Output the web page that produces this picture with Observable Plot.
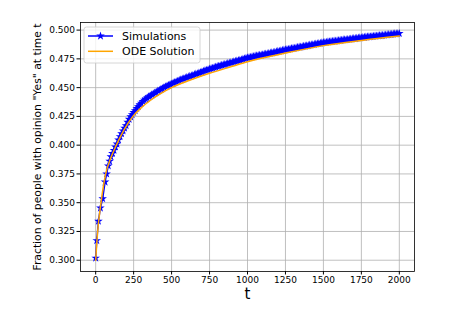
<!DOCTYPE html>
<html><head><meta charset="utf-8">
<script src="https://cdn.jsdelivr.net/npm/d3@7"></script>
<script src="https://cdn.jsdelivr.net/npm/@observablehq/plot@0.6"></script>
<style>body{margin:0;background:#fff}</style>
</head><body><div id="chart"></div>
<script>
const simT = [0, 7, 18, 31, 46, 62, 72, 83, 92,
  100, 110, 120, 130, 140, 150, 160, 170, 180, 190, 200, 210, 220, 230, 240, 250, 260, 270, 280, 290,
  300, 310, 320, 330, 340, 350, 360, 370, 380, 390, 400, 410, 420, 430, 440, 450, 460, 470, 480, 490,
  500, 510, 520, 530, 540, 550, 560, 570, 580, 590, 600, 610, 620, 630, 640, 650, 660, 670, 680, 690,
  700, 710, 720, 730, 740, 750, 760, 770, 780, 790, 800, 810, 820, 830, 840, 850, 860, 870, 880, 890,
  900, 910, 920, 930, 940, 950, 960, 970, 980, 990, 1000, 1010, 1020, 1030, 1040, 1050, 1060, 1070, 1080, 1090,
  1100, 1110, 1120, 1130, 1140, 1150, 1160, 1170, 1180, 1190, 1200, 1210, 1220, 1230, 1240, 1250, 1260, 1270, 1280, 1290,
  1300, 1310, 1320, 1330, 1340, 1350, 1360, 1370, 1380, 1390, 1400, 1410, 1420, 1430, 1440, 1450, 1460, 1470, 1480, 1490,
  1500, 1510, 1520, 1530, 1540, 1550, 1560, 1570, 1580, 1590, 1600, 1610, 1620, 1630, 1640, 1650, 1660, 1670, 1680, 1690,
  1700, 1710, 1720, 1730, 1740, 1750, 1760, 1770, 1780, 1790, 1800, 1810, 1820, 1830, 1840, 1850, 1860, 1870, 1880, 1890,
  1900, 1910, 1920, 1930, 1940, 1950, 1960, 1970, 1980, 1990, 2000];
const simV = [0.3019, 0.3171, 0.3339, 0.3454, 0.3535, 0.3680, 0.3750, 0.3820, 0.3860,
  0.3900, 0.3928, 0.3955, 0.3985, 0.4010, 0.4045, 0.4075, 0.4100, 0.4125, 0.4148, 0.4170, 0.4200, 0.4225, 0.4247, 0.4265, 0.4285, 0.4300, 0.4320, 0.4335, 0.4352,
  0.4365, 0.4381, 0.4392, 0.4400, 0.4410, 0.4421, 0.4428, 0.4438, 0.4445, 0.4454, 0.4460, 0.4471, 0.4478, 0.4486, 0.4492, 0.4502, 0.4508, 0.4515, 0.4520, 0.4528,
  0.4532, 0.4540, 0.4545, 0.4552, 0.4556, 0.4563, 0.4568, 0.4574, 0.4578, 0.4584, 0.4588, 0.4594, 0.4598, 0.4603, 0.4606, 0.4613, 0.4618, 0.4621, 0.4626, 0.4632,
  0.4636, 0.4643, 0.4648, 0.4651, 0.4656, 0.4662, 0.4666, 0.4669, 0.4674, 0.4679, 0.4683, 0.4686, 0.4690, 0.4695, 0.4699, 0.4701, 0.4705, 0.4710, 0.4714, 0.4717,
  0.4720, 0.4725, 0.4728, 0.4732, 0.4736, 0.4738, 0.4742, 0.4747, 0.4751, 0.4756, 0.4760, 0.4761, 0.4764, 0.4768, 0.4770, 0.4774, 0.4776, 0.4780, 0.4782, 0.4783,
  0.4786, 0.4790, 0.4792, 0.4794, 0.4797, 0.4801, 0.4803, 0.4805, 0.4808, 0.4812, 0.4815, 0.4817, 0.4820, 0.4824, 0.4826, 0.4829, 0.4832, 0.4833, 0.4836, 0.4840,
  0.4842, 0.4843, 0.4846, 0.4850, 0.4852, 0.4853, 0.4856, 0.4860, 0.4862, 0.4863, 0.4866, 0.4870, 0.4872, 0.4873, 0.4876, 0.4880, 0.4882, 0.4883, 0.4886, 0.4890,
  0.4892, 0.4893, 0.4895, 0.4898, 0.4899, 0.4900, 0.4902, 0.4905, 0.4905, 0.4907, 0.4909, 0.4911, 0.4912, 0.4915, 0.4916, 0.4917, 0.4919, 0.4921, 0.4922, 0.4925,
  0.4926, 0.4927, 0.4929, 0.4932, 0.4933, 0.4934, 0.4936, 0.4938, 0.4939, 0.4941, 0.4942, 0.4943, 0.4945, 0.4947, 0.4948, 0.4949, 0.4951, 0.4953, 0.4953, 0.4955,
  0.4956, 0.4958, 0.4959, 0.4961, 0.4962, 0.4963, 0.4965, 0.4967, 0.4968, 0.4969, 0.4971];
const odeT = [0, 13, 35, 66, 100, 136, 184, 245, 300, 359, 430, 500, 600, 750, 900, 1000, 1250, 1500, 1750, 2000];
const odeV = [0.300, 0.325, 0.350, 0.375, 0.389, 0.400, 0.4127, 0.425, 0.4325, 0.4388, 0.4450, 0.4500, 0.4555, 0.4625, 0.4685, 0.4725, 0.4800, 0.4865, 0.4910, 0.4948];
const xTicks = [0, 250, 500, 750, 1000, 1250, 1500, 1750, 2000];
const yTicks = [0.300, 0.325, 0.350, 0.375, 0.400, 0.425, 0.450, 0.475, 0.500];
const seriesNames = ["Simulations", "ODE Solution"];
const seriesColors = ["blue", "orange"];
const xLabel = "t";
const yLabel = "Fraction of people with opinion \"Yes\" at time t";

const sim = simT.map((t, i) => ({t, v: simV[i]}));
const ode = odeT.map((t, i) => ({t, v: odeV[i]}));
const grid = {stroke: "#b0b0b0", strokeOpacity: 1, strokeWidth: 0.8};

const chart = Plot.plot({
  width: 457, height: 320,
  marginLeft: 80, marginRight: 43, marginTop: 22, marginBottom: 49,
  style: {fontFamily: "DejaVu Sans", fontSize: "9px", background: "#fff", color: "#000"},
  x: {domain: [-100, 2100]},
  y: {domain: [0.2902, 0.5066]},
  marks: [
    Plot.gridX(xTicks, grid),
    Plot.gridY(yTicks, grid),
    Plot.line(sim, {x: "t", y: "v", stroke: seriesColors[0], strokeWidth: 1.5}),
    Plot.dot(sim, {x: "t", y: "v", symbol: "star", r: 2.7, fill: seriesColors[0], stroke: "none"}),
    Plot.line(ode, {x: "t", y: "v", stroke: seriesColors[1], strokeWidth: 1.5, curve: "monotone-x"}),
    Plot.frame({stroke: "#000", strokeWidth: 0.8}),
    Plot.axisX(xTicks, {tickSize: 3.5, tickPadding: 2, tickFormat: "d", label: null}),
    Plot.axisY(yTicks, {tickSize: 3.5, tickPadding: 2, tickFormat: ".3f", label: null}),
    Plot.text([xLabel], {frameAnchor: "bottom", dy: 27, fontSize: 15}),
    Plot.text([yLabel], {frameAnchor: "left", textAnchor: "middle", rotate: -90, dx: -43, fontSize: 10.8})
  ]
});
document.getElementById("chart").append(chart);

// legend
const svg = d3.select(chart);
const lg = svg.append("g").attr("font-family", "DejaVu Sans").attr("font-size", 11).attr("text-anchor", "start");
lg.append("rect").attr("x", 84).attr("y", 27).attr("width", 116).attr("height", 36).attr("rx", 2.5)
  .attr("fill", "#fff").attr("fill-opacity", 0.8).attr("stroke", "#ccc").attr("stroke-width", 0.8);
seriesNames.forEach((name, i) => {
  const y = 36 + i * 15.3;
  lg.append("line").attr("x1", 88).attr("x2", 113).attr("y1", y).attr("y2", y)
    .attr("stroke", seriesColors[i]).attr("stroke-width", 1.5);
  if (i === 0) {
    lg.append("path").attr("d", d3.symbol(d3.symbolStar, 2.7 * 2.7 * Math.PI)())
      .attr("transform", `translate(100.5,${y})`).attr("fill", seriesColors[i]);
  }
  lg.append("text").attr("x", 122).attr("y", y).attr("dy", "0.35em").attr("fill", "#000").text(name);
});
</script>
</body></html>
